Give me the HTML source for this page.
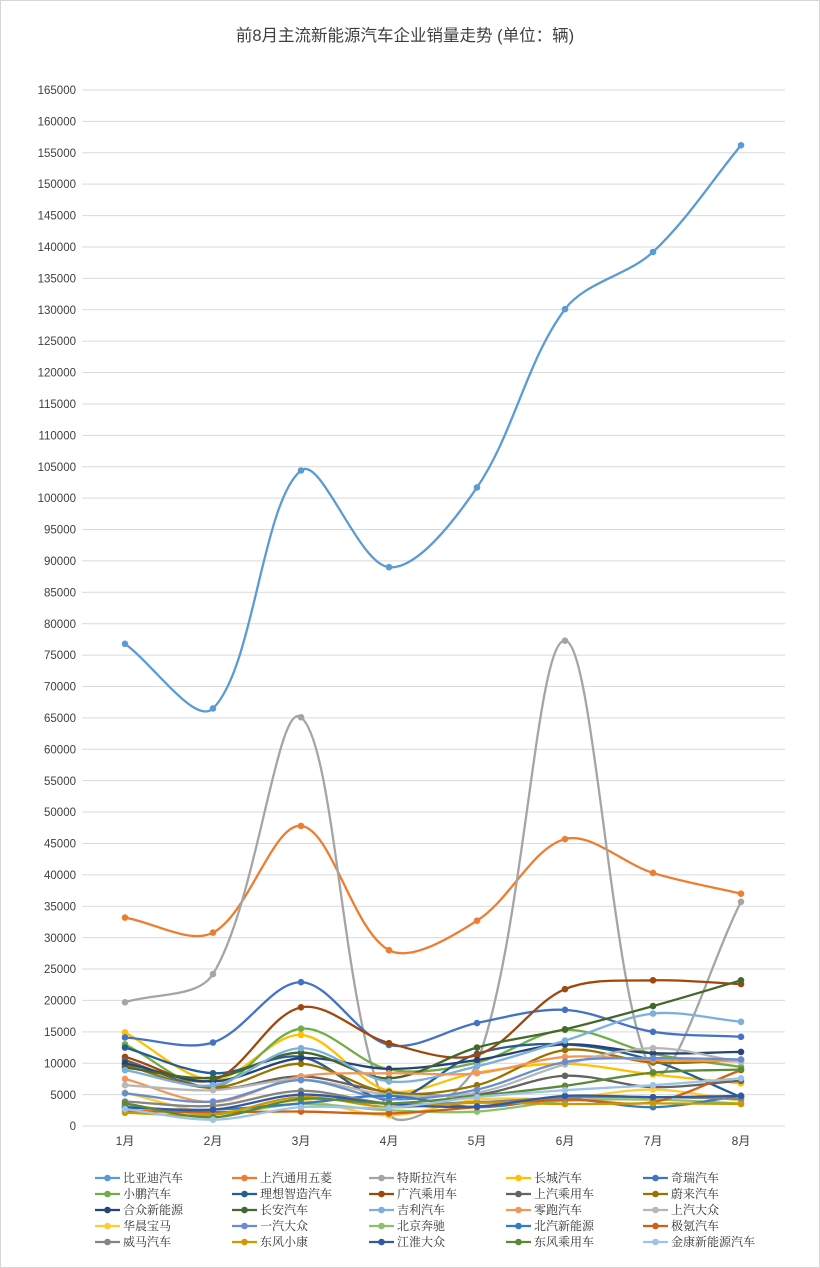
<!DOCTYPE html>
<html>
<head>
<meta charset="utf-8">
<style>
  html,body{margin:0;padding:0;background:#fff;}
  body{width:820px;height:1268px;overflow:hidden;}
  svg{display:block;}
  .ax{font-family:"Liberation Sans","Noto Sans CJK SC",sans-serif;font-size:11.5px;fill:#404040;}
  .xl{font-family:"Liberation Sans","Noto Sans CJK SC",sans-serif;font-size:12px;fill:#404040;}
  .tt{font-family:"Liberation Sans","Noto Sans CJK SC",sans-serif;font-size:16.5px;fill:#404040;}
  .lg{font-family:"Liberation Serif","Noto Serif CJK SC",serif;font-size:12px;fill:#333;}
</style>
</head>
<body>
<svg id="c" width="820" height="1268" viewBox="0 0 820 1268" xmlns="http://www.w3.org/2000/svg">
  <rect x="0.5" y="0.5" width="819" height="1267" fill="#fff" stroke="#d6d6d6" stroke-width="1"/>
  <text class="tt" x="405" y="41" text-anchor="middle">前8月主流新能源汽车企业销量走势 (单位：辆)</text>
  <g id="grid" stroke="#d9d9d9" stroke-width="1"></g>
  <g class="ax" text-anchor="end">
    <text x="76" y="94">165000</text>
    <text x="76" y="125.4">160000</text>
    <text x="76" y="156.8">155000</text>
    <text x="76" y="188.2">150000</text>
    <text x="76" y="219.6">145000</text>
    <text x="76" y="251">140000</text>
    <text x="76" y="282.4">135000</text>
    <text x="76" y="313.8">130000</text>
    <text x="76" y="345.2">125000</text>
    <text x="76" y="376.6">120000</text>
    <text x="76" y="408">115000</text>
    <text x="76" y="439.4">110000</text>
    <text x="76" y="470.8">105000</text>
    <text x="76" y="502.2">100000</text>
    <text x="76" y="533.6">95000</text>
    <text x="76" y="565">90000</text>
    <text x="76" y="596.4">85000</text>
    <text x="76" y="627.8">80000</text>
    <text x="76" y="659.2">75000</text>
    <text x="76" y="690.6">70000</text>
    <text x="76" y="722">65000</text>
    <text x="76" y="753.4">60000</text>
    <text x="76" y="784.8">55000</text>
    <text x="76" y="816.2">50000</text>
    <text x="76" y="847.6">45000</text>
    <text x="76" y="879">40000</text>
    <text x="76" y="910.4">35000</text>
    <text x="76" y="941.8">30000</text>
    <text x="76" y="973.2">25000</text>
    <text x="76" y="1004.6">20000</text>
    <text x="76" y="1036">15000</text>
    <text x="76" y="1067.4">10000</text>
    <text x="76" y="1098.8">5000</text>
    <text x="76" y="1130">0</text>
  </g>
  <g class="xl" text-anchor="middle">
    <text x="125" y="1145">1月</text>
    <text x="213" y="1145">2月</text>
    <text x="301" y="1145">3月</text>
    <text x="389" y="1145">4月</text>
    <text x="477" y="1145">5月</text>
    <text x="565" y="1145">6月</text>
    <text x="653" y="1145">7月</text>
    <text x="741" y="1145">8月</text>
  </g>
  <g id="series"></g>
  <g id="legendmarks"></g>
  <g class="lg">
    <text x="123" y="1182">比亚迪汽车</text>
    <text x="260" y="1182">上汽通用五菱</text>
    <text x="397" y="1182">特斯拉汽车</text>
    <text x="534" y="1182">长城汽车</text>
    <text x="671" y="1182">奇瑞汽车</text>

    <text x="123" y="1198">小鹏汽车</text>
    <text x="260" y="1198">理想智造汽车</text>
    <text x="397" y="1198">广汽乘用车</text>
    <text x="534" y="1198">上汽乘用车</text>
    <text x="671" y="1198">蔚来汽车</text>

    <text x="123" y="1214">合众新能源</text>
    <text x="260" y="1214">长安汽车</text>
    <text x="397" y="1214">吉利汽车</text>
    <text x="534" y="1214">零跑汽车</text>
    <text x="671" y="1214">上汽大众</text>

    <text x="123" y="1230">华晨宝马</text>
    <text x="260" y="1230">一汽大众</text>
    <text x="397" y="1230">北京奔驰</text>
    <text x="534" y="1230">北汽新能源</text>
    <text x="671" y="1230">极氪汽车</text>

    <text x="123" y="1246">威马汽车</text>
    <text x="260" y="1246">东风小康</text>
    <text x="397" y="1246">江淮大众</text>
    <text x="534" y="1246">东风乘用车</text>
    <text x="671" y="1246">金康新能源汽车</text>
  </g>
</svg>
<script>
(function(){
  var NS="http://www.w3.org/2000/svg";
  function el(n,a){var e=document.createElementNS(NS,n);for(var k in a)e.setAttribute(k,a[k]);return e;}
  var grid=document.getElementById('grid');
  for(var k=0;k<=33;k++){
    var y=1126-k*1036/33;
    grid.appendChild(el('line',{x1:82,x2:785,y1:y.toFixed(2),y2:y.toFixed(2)}));
  }
  var S=[
   ["#5B9BD5",[76.8,66.5,104.4,89.0,101.7,130.1,139.2,156.2]],
   ["#ED7D31",[33.2,30.8,47.8,28.0,32.7,45.7,40.3,37.0]],
   ["#A5A5A5",[19.7,24.2,65.1,2.0,10.0,77.3,8.6,35.7]],
   ["#FFC000",[14.9,7.4,14.5,5.6,8.5,9.9,8.2,6.8]],
   ["#4472C4",[14.1,13.3,22.9,12.9,16.4,18.5,15.0,14.2]],
   ["#70AD47",[13.0,6.2,15.5,9.0,10.1,15.3,11.5,9.4]],
   ["#255E91",[12.5,8.4,11.0,4.2,11.5,13.0,10.4,4.6]],
   ["#9E480E",[11.0,7.3,18.9,13.2,11.3,21.8,23.2,22.6]],
   ["#636363",[10.5,6.0,7.9,5.4,5.0,8.0,6.2,7.2]],
   ["#997300",[9.7,6.1,9.9,5.3,6.5,12.1,10.1,10.5]],
   ["#264478",[10.0,7.1,10.8,9.1,10.5,13.0,11.6,11.8]],
   ["#43682B",[9.3,7.7,11.7,7.6,12.5,15.4,19.1,23.2]],
   ["#7CAFDD",[8.9,6.5,12.4,7.1,9.5,13.6,17.9,16.6]],
   ["#F1975A",[7.5,3.8,7.9,8.4,8.4,11.0,10.5,10.3]],
   ["#B7B7B7",[6.5,5.7,7.4,5.0,5.3,9.8,12.4,10.2]],
   ["#FFCD33",[5.3,2.2,4.0,1.7,4.2,4.4,5.8,4.0]],
   ["#698ED0",[5.2,3.9,7.3,4.3,5.8,10.2,10.8,10.6]],
   ["#8CC168",[3.4,1.9,3.5,2.5,2.3,4.0,4.2,3.6]],
   ["#327DC2",[2.9,2.6,3.6,4.8,3.0,4.3,3.0,4.8]],
   ["#D26012",[2.4,2.2,2.3,2.0,3.0,4.2,3.8,8.9]],
   ["#848484",[3.9,3.2,5.6,3.6,3.8,4.5,4.6,4.3]],
   ["#CC9A00",[2.1,1.8,4.6,3.0,3.7,3.5,3.6,3.5]],
   ["#335AA1",[3.0,2.6,5.0,3.5,3.1,4.8,4.6,4.8]],
   ["#5A8A39",[3.6,1.4,4.3,3.6,4.8,6.4,8.5,9.0]],
   ["#9DC3E6",[2.7,1.0,3.0,2.9,4.6,5.7,6.5,7.6]]
  ];
  function Y(v){return 1126-v*1036/165;}
  function X(i){return 125+88*i;}
  function dist(a,b){return Math.sqrt((a[0]-b[0])*(a[0]-b[0])+(a[1]-b[1])*(a[1]-b[1]));}
  function f(n){return n.toFixed(2);}
  var g=document.getElementById('series');
  S.forEach(function(s){
    var pts=s[1].map(function(v,i){return [X(i),Y(v)];});
    var d='M'+f(pts[0][0])+','+f(pts[0][1]);
    for(var i=0;i<pts.length-1;i++){
      var p0=pts[i-1]||pts[i],p1=pts[i],p2=pts[i+1],p3=pts[i+2]||pts[i+1];
      var d01=dist(p0,p1),d12=dist(p1,p2),d23=dist(p2,p3);
      var f1=d12/((d01+d12)||1)/3, f2=d12/((d12+d23)||1)/3;
      var c1=[p1[0]+(p2[0]-p0[0])*f1,p1[1]+(p2[1]-p0[1])*f1];
      var c2=[p2[0]-(p3[0]-p1[0])*f2,p2[1]-(p3[1]-p1[1])*f2];
      d+=' C'+f(c1[0])+','+f(c1[1])+' '+f(c2[0])+','+f(c2[1])+' '+f(p2[0])+','+f(p2[1]);
    }
    g.appendChild(el('path',{d:d,fill:'none',stroke:s[0],'stroke-width':2.3,'stroke-linejoin':'round','stroke-linecap':'round'}));
    pts.forEach(function(p){g.appendChild(el('circle',{cx:f(p[0]),cy:f(p[1]),r:3.3,fill:s[0]}));});
  });
  var lm=document.getElementById('legendmarks');
  var cols=[95,232,369,506,643], rows=[1178,1194,1210,1226,1242];
  S.forEach(function(s,i){
    var x=cols[i%5], y=rows[Math.floor(i/5)];
    lm.appendChild(el('line',{x1:x,x2:x+25,y1:y,y2:y,stroke:s[0],'stroke-width':2.3}));
    lm.appendChild(el('circle',{cx:x+12.5,cy:y,r:3.3,fill:s[0]}));
  });
})();
</script>
</body>
</html>
